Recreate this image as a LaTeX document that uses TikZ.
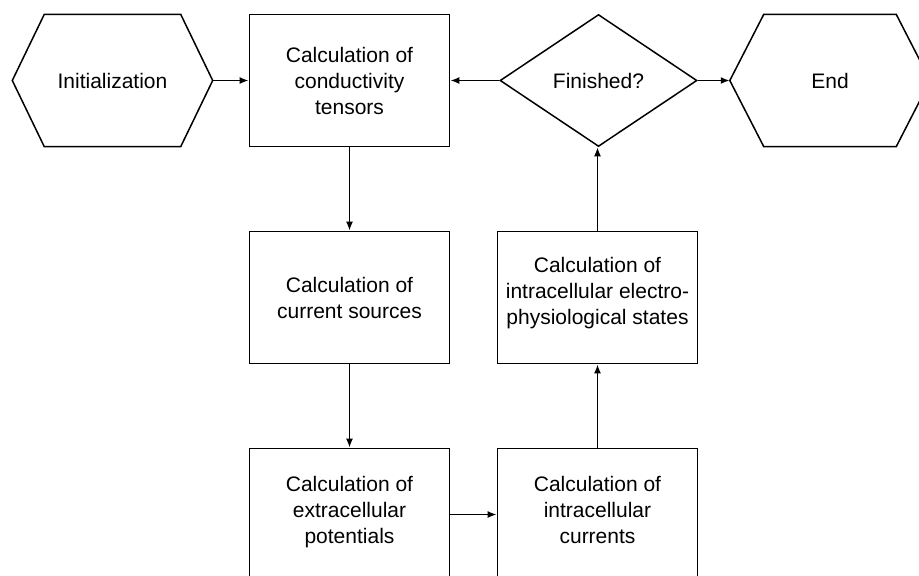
\documentclass[tikz,border=0pt]{standalone}
\usepackage{fontspec}
\setmainfont{Liberation Sans}
\usetikzlibrary{shapes.geometric,arrows.meta}
\tikzset{
  every node/.style={font=\fontsize{21}{26}\selectfont, text=black, align=center, inner sep=0pt},
  procbox/.style={draw, line width=1.6pt, rectangle, minimum width=200pt, minimum height=132pt},
  hexbox/.style={rectangle, minimum width=200pt, minimum height=132pt},
  decide/.style={draw, line width=1.5pt, diamond, minimum width=197pt, minimum height=132pt},
  hexline/.style={line width=1.5pt, line join=miter},
  flow/.style={line width=1.8pt, -{Latex[length=9pt,width=7pt]}}
}
\begin{document}
\begin{tikzpicture}[x=1pt,y=-1pt]
\useasboundingbox (0,0) rectangle (919,576);
\fill[white] (0,0) rectangle (919,576);
\clip (0,0) rectangle (919,576);
% nodes
\node[hexbox] (init) at (112.5,80.5) {Initialization};
\draw[hexline] (init.west) -- ([xshift=32pt]init.north west) -- ([xshift=-32pt]init.north east) -- (init.east) -- ([xshift=-32pt]init.south east) -- ([xshift=32pt]init.south west) -- cycle;
\node[procbox] (cond) at (349.5,80.5) {Calculation of\\conductivity\\tensors};
\node[decide] (fin) at (598.5,80.5) {Finished?};
\node[hexbox] (end) at (830,80.5) {End};
\draw[hexline] (end.west) -- ([xshift=34pt]end.north west) -- ([xshift=-34pt]end.north east) -- (end.east) -- ([xshift=-34pt]end.south east) -- ([xshift=34pt]end.south west) -- cycle;
\node[procbox] (src) at (349.5,297.5) {Calculation of\\current sources};
\node[procbox] (state) at (597.5,297.5) {Calculation of\\intracellular electro-\\physiological states\\[-12pt]};
\node[procbox] (extra) at (349.5,514.5) {Calculation of\\extracellular\\potentials\\[-17pt]};
\node[procbox] (intra) at (597.5,514.5) {Calculation of\\intracellular\\currents\\[-17pt]};
% connectors
\draw[flow] (init.east) -- (cond.west);
\draw[flow] (fin.west) -- (cond.east);
\draw[flow] (fin.east) -- (end.west);
\draw[flow] (cond.south) -- (src.north);
\draw[flow] (src.south) -- (extra.north);
\draw[flow] (extra.east) -- (intra.west);
\draw[flow] (intra.north) -- (state.south);
\draw[flow] (state.north) -- (fin.south -| state.north);
\end{tikzpicture}
\end{document}
